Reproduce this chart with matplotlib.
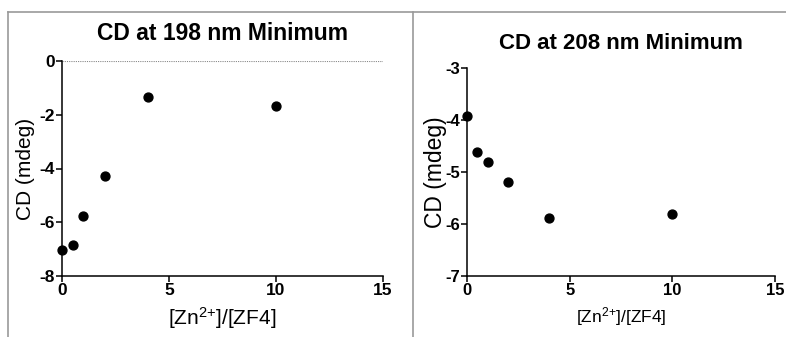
import matplotlib
matplotlib.use("Agg")
import matplotlib.pyplot as plt
from matplotlib.lines import Line2D

# Zn2+ titration of ZF4, CD minima at two wavelengths
ratio = [0, 0.5, 1, 2, 4, 10]
cd_198 = [-7.02, -6.86, -5.76, -4.29, -1.34, -1.67]
cd_208 = [-3.93, -4.62, -4.81, -5.19, -5.89, -5.81]

x_ticks = [0, 5, 10, 15]
y_ticks_198 = [0, -2, -4, -6, -8]
y_ticks_208 = [-3, -4, -5, -6, -7]

plt.rcParams["font.family"] = ["Liberation Sans", "DejaVu Sans"]
plt.rcParams["axes.unicode_minus"] = False
plt.rcParams["mathtext.fontset"] = "custom"
plt.rcParams["mathtext.rm"] = "Liberation Sans"
plt.rcParams["mathtext.it"] = "Liberation Sans:italic"
plt.rcParams["mathtext.bf"] = "Liberation Sans:bold"

W, H = 786, 337
fig = plt.figure(figsize=(W / 100, H / 100), dpi=100)

XLABEL = r"[Zn$^{\mathregular{2{+}}}$]/[ZF4]"


def box(x0, x1, top, bottom):
    return [x0 / W, 1 - bottom / H, (x1 - x0) / W, (bottom - top) / H]


def style_axes(ax, yticks, ylim, title, title_size, title_pad,
               xlab_size, ylab_size, ylab_pad, tick_size):
    ax.spines["top"].set_visible(False)
    ax.spines["right"].set_visible(False)
    for s in ("left", "bottom"):
        ax.spines[s].set_linewidth(1.1)
    ax.set_xlim(0, 15)
    ax.set_ylim(*ylim)
    ax.set_xticks(x_ticks)
    ax.set_yticks(yticks)
    ax.tick_params(direction="out", length=4, width=1.1, pad=1,
                   labelsize=tick_size)
    for lab in ax.get_xticklabels() + ax.get_yticklabels():
        lab.set_fontweight("bold")
    ax.set_title(title, fontsize=title_size, fontweight="bold", pad=title_pad)
    ax.set_xlabel(XLABEL, fontsize=xlab_size, labelpad=5)
    ax.set_ylabel("CD (mdeg)", fontsize=ylab_size, labelpad=ylab_pad)
    ax.patch.set_visible(False)


ax1 = fig.add_axes(box(62, 383, 61, 276))
ax1.axhline(0, color="#888888", lw=0.8, ls=(0, (1, 1)), zorder=1)
ax1.plot(ratio, cd_198, "o", color="black", markersize=6.4, clip_on=False, zorder=3)
style_axes(ax1, y_ticks_198, (-8, 0), "CD at 198 nm Minimum", 16.5, 15,
           15, 15, 3, 12.5)

ax2 = fig.add_axes(box(467, 775, 68, 276))
ax2.plot(ratio, cd_208, "o", color="black", markersize=6.4, clip_on=False, zorder=3)
style_axes(ax2, y_ticks_208, (-7, -3), "CD at 208 nm Minimum", 16, 14,
           12.5, 16.5, -1, 12)

# panel frame lines
frame = "#999999"
fig.add_artist(Line2D([8 / W, 8 / W], [0, 1 - 12 / H], color=frame, lw=1.2))
fig.add_artist(Line2D([8 / W, 1], [1 - 12 / H, 1 - 12 / H], color=frame, lw=1.2))
fig.add_artist(Line2D([413 / W, 413 / W], [0, 1 - 12 / H], color=frame, lw=1.2))

fig.savefig("out.png", dpi=100)
